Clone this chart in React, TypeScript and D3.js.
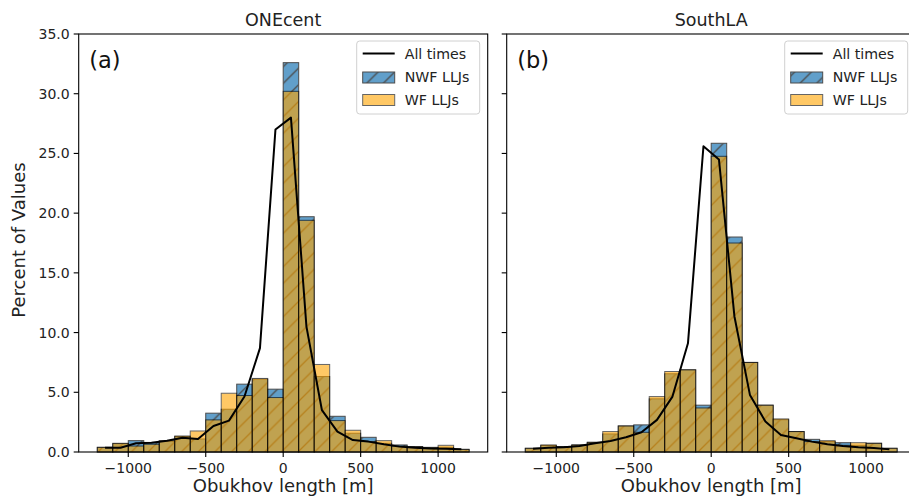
import React from 'react';
import * as d3 from 'd3';

// histogram bins (left edges, m), width 100 m
const binLeft = [-1200, -1100, -1000, -900, -800, -700, -600, -500, -400, -300, -200, -100,
  0, 100, 200, 300, 400, 500, 600, 700, 800, 900, 1000, 1100];
const binWidth = 100;

// ONEcent
const oneNWF = [0.39, 0.7, 0.95, 0.8, 0.9, 1.3, 1.09, 3.25, 3.58, 5.68, 6.1, 5.26,
  32.6, 19.7, 6.32, 2.99, 1.57, 1.23, 0.73, 0.59, 0.45, 0.39, 0.39, 0.22];
const oneWF = [0.39, 0.73, 0.5, 0.65, 0.95, 1.34, 1.76, 2.69, 4.92, 4.73, 6.16, 4.56,
  30.2, 19.4, 7.33, 2.63, 1.82, 0.87, 0.95, 0.5, 0.45, 0.36, 0.56, 0.22];
const oneAll = [0.36, 0.36, 0.73, 0.78, 0.95, 1.2, 1.09, 2.18, 2.63, 4.65, 8.7, 27.0,
  28.0, 10.5, 3.5, 1.71, 1.0, 0.87, 0.64, 0.45, 0.36, 0.3, 0.28, 0.22];

// SouthLA
const southNWF = [0.31, 0.55, 0.45, 0.59, 0.81, 1.51, 2.18, 2.27, 4.45, 6.55, 6.88, 3.92,
  25.85, 18.0, 7.5, 3.92, 2.7, 1.71, 1.06, 0.87, 0.78, 0.56, 0.73, 0.31];
const southWF = [0.31, 0.59, 0.45, 0.59, 0.81, 1.71, 2.18, 1.65, 4.64, 6.74, 6.88, 3.69,
  24.76, 17.5, 7.5, 3.92, 2.77, 1.71, 0.87, 0.95, 0.56, 0.78, 0.73, 0.31];
const southAll = [0.28, 0.36, 0.39, 0.5, 0.73, 0.92, 1.23, 1.65, 2.69, 4.64, 9.1, 25.6,
  24.5, 11.35, 4.78, 2.55, 1.43, 1.15, 0.87, 0.64, 0.5, 0.39, 0.34, 0.22];

const xTicks = [-1000, -500, 0, 500, 1000];
const yTicks = [0, 5, 10, 15, 20, 25, 30, 35];
const legendLabels = ['All times', 'NWF LLJs', 'WF LLJs'];

const W = 909;
const H = 500;
const top = 34;
const bottom = 452;
const panelW = 409;
const font = "'DejaVu Sans', sans-serif";
const hatch = 100 / 6;

const panels = [
  { title: 'ONEcent', tag: '(a)', left: 78.7, nwf: oneNWF, wf: oneWF, all: oneAll, yLabels: true },
  { title: 'SouthLA', tag: '(b)', left: 506.7, nwf: southNWF, wf: southWF, all: southAll, yLabels: false },
];

const fmtX = (v: number) => (v < 0 ? '\u2212' + Math.abs(v) : String(v));

const Panel: React.FC<{ p: typeof panels[0]; idx: number }> = ({ p, idx }) => {
  const x = d3.scaleLinear().domain([-1320, 1320]).range([p.left, p.left + panelW]);
  const y = d3.scaleLinear().domain([0, 35]).range([bottom, top]);
  const line = d3.line<number>()
    .x((_, i) => x(binLeft[i] + binWidth / 2))
    .y(d => y(d));
  const cx = p.left + panelW / 2;
  const lx = p.left + panelW - 131; // legend box left
  const ly = 41;

  return (
    <g>
      {/* NWF bars (hatched) */}
      {p.nwf.map((v, i) => (
        <rect key={'n' + i} x={x(binLeft[i])} y={y(v)}
          width={x(binLeft[i] + binWidth) - x(binLeft[i])} height={y(0) - y(v)}
          fill="url(#hatch)" stroke="#000" strokeWidth={1} opacity={0.7} />
      ))}
      {/* WF bars */}
      {p.wf.map((v, i) => (
        <rect key={'w' + i} x={x(binLeft[i])} y={y(v)}
          width={x(binLeft[i] + binWidth) - x(binLeft[i])} height={y(0) - y(v)}
          fill="#ffa500" stroke="#000" strokeWidth={1} opacity={0.6} />
      ))}
      {/* All times */}
      <path d={line(p.all) || ''} fill="none" stroke="#000" strokeWidth={2} strokeLinejoin="round" />

      {/* spines */}
      <rect x={p.left} y={top} width={panelW} height={bottom - top} fill="none" stroke="#000" strokeWidth={1.1} />

      {/* x ticks */}
      {xTicks.map(t => (
        <g key={'xt' + t}>
          <line x1={x(t)} x2={x(t)} y1={bottom} y2={bottom + 5} stroke="#000" strokeWidth={1.1} />
          <text x={x(t)} y={473} textAnchor="middle" fontSize={14} fontFamily={font} fill="#222">{fmtX(t)}</text>
        </g>
      ))}
      {/* y ticks */}
      {yTicks.map(t => (
        <g key={'yt' + t}>
          <line x1={p.left - 5} x2={p.left} y1={y(t)} y2={y(t)} stroke="#000" strokeWidth={1.1} />
          {p.yLabels && (
            <text x={p.left - 9} y={y(t)} dy="0.36em" textAnchor="end" fontSize={14} fontFamily={font} fill="#222">{t.toFixed(1)}</text>
          )}
        </g>
      ))}

      <text x={cx} y={26} textAnchor="middle" fontSize={17.5} fontFamily={font} fill="#222">{p.title}</text>
      <text x={cx} y={492} textAnchor="middle" fontSize={18} fontFamily={font} fill="#222">Obukhov length [m]</text>
      <text x={p.left + 10.5} y={68} fontSize={22.5} fontFamily={font} fill="#111">{p.tag}</text>

      {/* legend */}
      <g>
        <rect x={lx} y={ly} width={123} height={73} rx={3} fill="#fff" fillOpacity={0.8} stroke="#d0d0d0" strokeWidth={1} />
        <line x1={lx + 6} x2={lx + 38} y1={ly + 12.5} y2={ly + 12.5} stroke="#000" strokeWidth={2} />
        <rect x={lx + 6} y={ly + 31} width={32} height={11} fill="url(#hatch)" stroke="#000" strokeWidth={1} opacity={0.7} />
        <rect x={lx + 6} y={ly + 53.5} width={32} height={11} fill="#ffa500" stroke="#000" strokeWidth={1} opacity={0.6} />
        {legendLabels.map((l, i) => (
          <text key={l} x={lx + 48} y={ly + 12.5 + i * 23.2} dy="0.36em" fontSize={14.2} fontFamily={font} fill="#222">{l}</text>
        ))}
      </g>
      {idx === 0 && (
        <text transform={`translate(25, 240) rotate(-90)`} textAnchor="middle" fontSize={18} fontFamily={font} fill="#222">Percent of Values</text>
      )}
    </g>
  );
};

const App: React.FC = () => (
  <svg width={W} height={H} style={{ position: 'absolute', left: 0, top: 0, background: '#fff' }}>
    <defs>
      <pattern id="hatch" patternUnits="userSpaceOnUse" width={hatch} height={hatch}>
        <rect width={hatch} height={hatch} fill="#1f77b4" />
        <path d={`M0,${hatch} L${hatch},0 M${-hatch / 2},${hatch / 2} L${hatch / 2},${-hatch / 2} M${hatch / 2},${hatch * 1.5} L${hatch * 1.5},${hatch / 2}`}
          stroke="#000" strokeWidth={1.3} />
      </pattern>
    </defs>
    <rect width={W} height={H} fill="#fff" />
    {panels.map((p, i) => <Panel key={p.title} p={p} idx={i} />)}
  </svg>
);

export default App;
